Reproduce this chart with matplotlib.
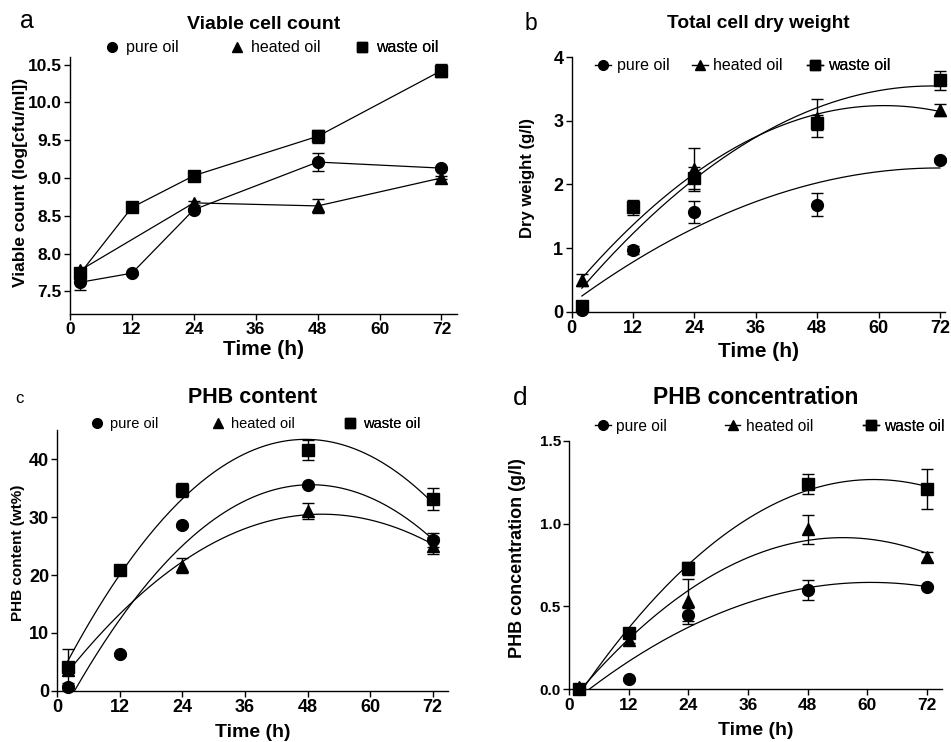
import numpy as np
import matplotlib
matplotlib.use('Agg')
import matplotlib.pyplot as plt
from matplotlib.lines import Line2D

plt.rcParams['font.family'] = ['Liberation Sans', 'DejaVu Sans']

# sampling times (h)
t = [2, 12, 24, 48, 72]
t_heat = [2, 24, 48, 72]  # heated oil has no 12 h point in a, b, c

# a - viable cell count (log cfu/ml)
pure_a = [7.62, 7.74, 8.58, 9.21, 9.13]
pure_a_err = [0.10, 0.02, 0.02, 0.12, 0.02]
heat_a = [7.78, 8.67, 8.63, 9.00]
heat_a_err = [0.03, 0.03, 0.09, 0.02]
waste_a = [7.74, 8.61, 9.03, 9.55, 10.42]
waste_a_err = [0.05, 0.03, 0.03, 0.09, 0.09]

# b - total cell dry weight (g/l)
pure_b = [0.03, 0.97, 1.57, 1.68, 2.38]
pure_b_err = [0.02, 0.07, 0.17, 0.18, 0.03]
heat_b = [0.50, 2.24, 3.04, 3.17]
heat_b_err = [0.10, 0.34, 0.30, 0.10]
waste_b = [0.09, 1.64, 2.10, 2.97, 3.64]
waste_b_err = [0.05, 0.12, 0.17, 0.12, 0.15]

# c - PHB content (wt%)
pure_c = [0.7, 6.3, 28.6, 35.5, 26.0]
pure_c_err = [0.6, 0.3, 0.3, 0.3, 1.2]
heat_c = [3.5, 21.6, 31.1, 25.1]
heat_c_err = [0.5, 1.3, 1.4, 1.4]
waste_c = [4.1, 20.8, 34.7, 41.6, 33.1]
waste_c_err = [3.1, 0.5, 1.2, 1.7, 1.9]

# d - PHB concentration (g/l)
pure_d = [0.0, 0.06, 0.45, 0.60, 0.62]
pure_d_err = [0.005, 0.01, 0.04, 0.06, 0.01]
heat_d = [0.015, 0.30, 0.53, 0.965, 0.80]
heat_d_err = [0.01, 0.02, 0.137, 0.087, 0.03]
waste_d = [0.0, 0.34, 0.73, 1.24, 1.21]
waste_d_err = [0.01, 0.02, 0.04, 0.06, 0.12]

names = ['pure oil', 'heated oil', 'waste oil']
markers = ['o', '^', 's']

fig = plt.figure(figsize=(9.51, 7.42), dpi=100)

# axes placed to match the original panel layout
ax_a = fig.add_axes([0.0736, 0.5768, 0.4069, 0.3464])
ax_b = fig.add_axes([0.6011, 0.5799, 0.3926, 0.3429])
ax_c = fig.add_axes([0.0603, 0.0691, 0.4111, 0.3509])
ax_d = fig.add_axes([0.5986, 0.0710, 0.3916, 0.3350])


def points(ax, x, y, err, m):
    ax.errorbar(x, y, yerr=err, fmt=m, color='black', ms=8.5, elinewidth=1,
                capsize=4, capthick=1, clip_on=False, zorder=3)


def fit(ax, x, y):
    # second order polynomial fit, drawn from first to last time point
    c = np.polyfit(x, y, 2)
    xx = np.linspace(min(x), max(x), 200)
    ax.plot(xx, np.polyval(c, xx), color='black', lw=0.9, zorder=2)


def style(ax, xmax, ylim, yticks, tick_fs, ytick_fs, ylabel, ylab_fs, ylab_xy,
          xlab_fs, xlab_y, title, title_fs, title_y):
    ax.set_xlim(0, xmax)
    ax.set_ylim(*ylim)
    ax.set_xticks([0, 12, 24, 36, 48, 60, 72])
    ax.set_yticks(yticks)
    for s in ['top', 'right']:
        ax.spines[s].set_visible(False)
    for s in ['left', 'bottom']:
        ax.spines[s].set_linewidth(1)
    ax.tick_params(direction='out', length=4, width=1, pad=2)
    for lb in ax.get_xticklabels():
        lb.set_fontsize(tick_fs)
        lb.set_fontweight('bold')
    for lb in ax.get_yticklabels():
        lb.set_fontsize(ytick_fs)
        lb.set_fontweight('bold')
    ax.set_ylabel(ylabel, fontsize=ylab_fs, fontweight='bold')
    ax.yaxis.set_label_coords(*ylab_xy)
    ax.yaxis.label.set_va('center')
    ax.set_xlabel('Time (h)', fontsize=xlab_fs, fontweight='bold')
    ax.xaxis.set_label_coords(0.5, xlab_y)
    ax.xaxis.label.set_va('center')
    ax.text(0.5, title_y, title, transform=ax.transAxes, ha='center', va='center',
            fontsize=title_fs, fontweight='bold')


def legend(ax, xs, y, fs, with_line):
    # one entry per legend so each sits where it does in the original
    for i in range(3):
        h = Line2D([], [], color='black', marker=markers[i], ms=7,
                   lw=1 if with_line else 0)
        lg = ax.legend([h], [names[i]], loc='center left', bbox_to_anchor=(xs[i], y),
                       frameon=False, fontsize=fs, handlelength=1.0,
                       handletextpad=0.35, borderpad=0, borderaxespad=0)
        ax.add_artist(lg)


# a
points(ax_a, t, pure_a, pure_a_err, 'o')
points(ax_a, t_heat, heat_a, heat_a_err, '^')
points(ax_a, t, waste_a, waste_a_err, 's')
ax_a.plot(t, pure_a, color='black', lw=0.9)
ax_a.plot(t_heat, heat_a, color='black', lw=0.9)
ax_a.plot(t, waste_a, color='black', lw=0.9)
style(ax_a, 75, (7.2, 10.6), [7.5, 8.0, 8.5, 9.0, 9.5, 10.0, 10.5], 12.5, 12.5,
      'Viable count (log[cfu/ml])', 12.5, (-0.129, 0.51), 15, -0.14,
      'Viable cell count', 14, 1.128)
ax_a.set_yticklabels(['7.5', '8.0', '8.5', '9.0', '9.5', '10.0', '10.5'],
                     fontsize=12.5, fontweight='bold')
legend(ax_a, [0.088, 0.411, 0.734], 1.035, 11.5, False)

# b
points(ax_b, t, pure_b, pure_b_err, 'o')
points(ax_b, t_heat, heat_b, heat_b_err, '^')
points(ax_b, t, waste_b, waste_b_err, 's')
fit(ax_b, t, pure_b)
fit(ax_b, t_heat, heat_b)
fit(ax_b, t, waste_b)
style(ax_b, 73, (0, 4), [0, 1, 2, 3, 4], 13, 13,
      'Dry weight (g/l)', 12, (-0.117, 0.525), 15, -0.158,
      'Total cell dry weight', 13.8, 1.131)
legend(ax_b, [0.0625, 0.322, 0.630], 0.966, 11.5, True)

# c
points(ax_c, t, pure_c, pure_c_err, 'o')
points(ax_c, t_heat, heat_c, heat_c_err, '^')
points(ax_c, t, waste_c, waste_c_err, 's')
fit(ax_c, t, pure_c)
fit(ax_c, t_heat, heat_c)
fit(ax_c, t, waste_c)
style(ax_c, 75, (0, 45), [0, 10, 20, 30, 40], 13, 13,
      'PHB content (wt%)', 11, (-0.10, 0.53), 14, -0.159,
      'PHB content', 15.5, 1.128)
legend(ax_c, [0.084, 0.393, 0.731], 1.025, 10.5, False)

# d
points(ax_d, t, pure_d, pure_d_err, 'o')
points(ax_d, t, heat_d, heat_d_err, '^')
points(ax_d, t, waste_d, waste_d_err, 's')
fit(ax_d, t, pure_d)
fit(ax_d, t, heat_d)
fit(ax_d, t, waste_d)
style(ax_d, 75, (0, 1.5), [0.0, 0.5, 1.0, 1.5], 12.5, 11,
      'PHB concentration (g/l)', 13, (-0.138, 0.53), 14, -0.164,
      'PHB concentration', 16.5, 1.172)
ax_d.set_yticklabels(['0.0', '0.5', '1.0', '1.5'], fontsize=11, fontweight='bold')
legend(ax_d, [0.069, 0.418, 0.790], 1.059, 11.2, True)

# panel letters
fig.text(20 / 951, 1 - 28 / 742, 'a', fontsize=18, va='baseline')
fig.text(525 / 951, 1 - 30 / 742, 'b', fontsize=16.5, va='baseline')
fig.text(15 / 951, 1 - 403 / 742, 'c', fontsize=12, va='baseline')
fig.text(513 / 951, 1 - 405 / 742, 'd', fontsize=19, va='baseline')

fig.savefig('out.png', dpi=100)
